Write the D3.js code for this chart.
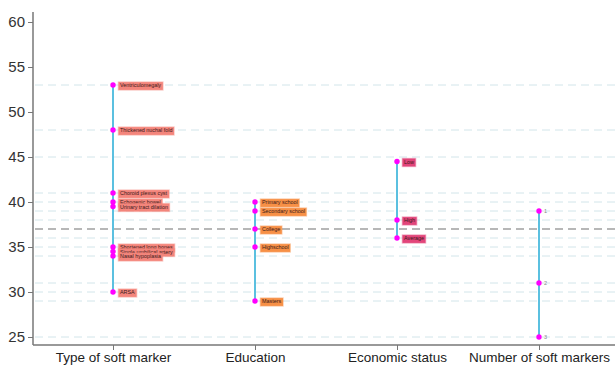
<!DOCTYPE html>
<html><head><meta charset="utf-8">
<script src="https://cdn.jsdelivr.net/npm/d3@7"></script>
<style>body{margin:0;background:#fff;}svg{display:block;font-family:"Liberation Sans",Arial,sans-serif;}</style>
</head><body><div id="chart"></div>
<script>
const categories = ["Type of soft marker","Education","Economic status","Number of soft markers"];
const typeLabels = ["Ventriculomegaly","Thickened nuchal fold","Choroid plexus cyst","Echogenic bowel","Urinary tract dilation","Shortened long bones","Single umbilical artery","Nasal hypoplasia","ARSA"];
const typeValues = [53,48,41,40,39.5,35,34.5,34,30];
const eduLabels = ["Primary school","Secondary school","College","Highschool","Masters"];
const eduValues = [40,39,37,35,29];
const econLabels = ["Low","High","Average"];
const econValues = [44.5,38,36];
const numLabels = ["1","2","3"];
const numValues = [39,31,25];
const gridValues = [53,48,45,41,40,39,38,36,35,34,31,30,29,25];
const meanValue = 37;
const yTicks = [25,30,35,40,45,50,55,60];

const groups = [
  {cat:categories[0], labels:typeLabels, values:typeValues, fill:"#f4857c", box:true},
  {cat:categories[1], labels:eduLabels, values:eduValues, fill:"#f79046", box:true},
  {cat:categories[2], labels:econLabels, values:econValues, fill:"#e2457a", box:true},
  {cat:categories[3], labels:numLabels, values:numValues, fill:"none", box:false}
];

const W=615,H=367;
const svg=d3.select("#chart").append("svg").attr("width",W).attr("height",H);
const x=d3.scalePoint().domain(categories).range([113,539]);
const y=d3.scaleLinear().domain([25,60]).range([337,22]);
const left=33, bottom=345;

// gridlines
svg.append("g").selectAll("line").data(gridValues).join("line")
  .attr("x1",left+2).attr("x2",W).attr("y1",d=>y(d)).attr("y2",d=>y(d))
  .attr("stroke","#d2e5ea").attr("stroke-width",1).attr("stroke-dasharray","8,5");
svg.append("line").attr("x1",left+2).attr("x2",W).attr("y1",y(meanValue)).attr("y2",y(meanValue))
  .attr("stroke","#a0a0a0").attr("stroke-width",1.3).attr("stroke-dasharray","8,5");

// axes
const yAxis=d3.axisLeft(y).tickValues(yTicks).tickSize(5).tickPadding(3);
const gy=svg.append("g").attr("transform",`translate(${left},0)`).call(yAxis);
gy.select(".domain").attr("d",`M0,12V${bottom}`).attr("stroke","#777").attr("stroke-width",1.5);
gy.selectAll(".tick line").attr("stroke","#777");
gy.selectAll(".tick text").attr("font-size",15).attr("fill","#333");

const xAxis=d3.axisBottom(x).tickSize(5).tickPadding(4);
const gx=svg.append("g").attr("transform",`translate(0,${bottom})`).call(xAxis);
gx.select(".domain").attr("d",`M${left},0H${W}`).attr("stroke","#777").attr("stroke-width",1.5);
gx.selectAll(".tick line").attr("stroke","#777");
gx.selectAll(".tick text").attr("font-size",13.5).attr("fill","#222").attr("dy","0.6em");

// groups
groups.forEach(g=>{
  const cx=x(g.cat);
  const gg=svg.append("g");
  gg.append("line").attr("x1",cx).attr("x2",cx)
    .attr("y1",y(d3.max(g.values))).attr("y2",y(d3.min(g.values)))
    .attr("stroke","#5bc0e0").attr("stroke-width",2);
  const items=g.values.map((v,i)=>({v,l:g.labels[i]}));
  const lab=gg.selectAll("g.lab").data(items).join("g").attr("class","lab")
    .attr("transform",d=>`translate(${cx+5},${y(d.v)+1})`);
  lab.each(function(d){
    const s=d3.select(this);
    const t=s.append("text").text(d.l).attr("x",g.box?2:0).attr("y",0)
      .attr("dominant-baseline","middle")
      .attr("font-size",g.box?5.4:5.5).attr("fill",g.box?"#3a1a1a":"#888");
    if(g.box){
      const bb=t.node().getBBox();
      s.insert("rect","text").attr("x",bb.x-1.5).attr("y",-3.9).attr("width",bb.width+3).attr("height",7.8)
        .attr("fill",g.fill).attr("stroke",g.fill).attr("stroke-opacity",0.45).attr("stroke-width",1.5);
    }
  });
  gg.selectAll("circle").data(g.values).join("circle")
    .attr("cx",cx).attr("cy",d=>y(d)).attr("r",2.7).attr("fill","#ff00ff");
});
</script></body></html>
